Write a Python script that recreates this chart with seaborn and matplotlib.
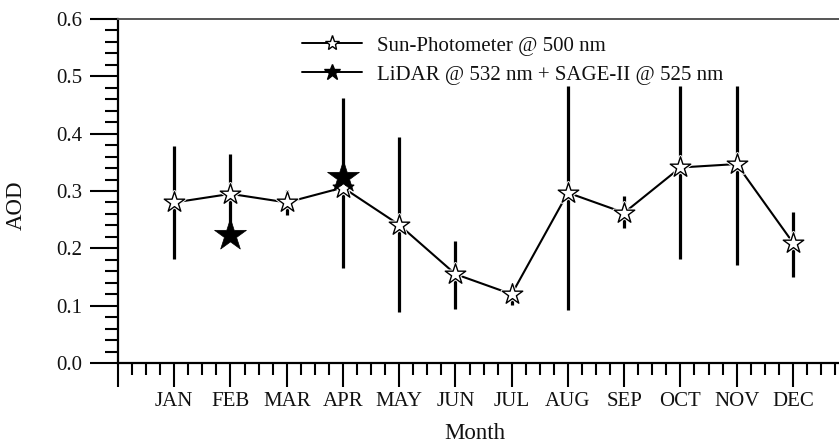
import matplotlib
matplotlib.use("Agg")
import matplotlib.pyplot as plt
from matplotlib.ticker import MultipleLocator, FixedLocator, FormatStrFormatter
from matplotlib.lines import Line2D
import seaborn as sns
import numpy as np

months = ["JAN", "FEB", "MAR", "APR", "MAY", "JUN", "JUL", "AUG", "SEP", "OCT", "NOV", "DEC"]
sun_aod = [0.280, 0.295, 0.280, 0.306, 0.241, 0.155, 0.120, 0.297, 0.262, 0.341, 0.347, 0.210]
sun_upper = [0.378, 0.364, 0.302, 0.462, 0.395, 0.212, 0.137, 0.483, 0.292, 0.483, 0.483, 0.264]
sun_lower = [0.182, 0.225, 0.258, 0.166, 0.089, 0.095, 0.101, 0.093, 0.236, 0.182, 0.171, 0.150]
lidar_months = ["FEB", "APR"]
lidar_aod = [0.224, 0.325]

sns.set_theme(style="ticks")
plt.rcParams["font.family"] = ["Liberation Serif", "DejaVu Serif"]

fig = plt.figure(figsize=(8.39, 4.46), dpi=100)
ax = fig.add_axes([118 / 839, 1 - 363 / 446, 1 - 118 / 839, (363 - 19) / 446])

pos = np.arange(1, len(months) + 1)
lidar_pos = [months.index(m) + 1 for m in lidar_months]

# error bars
ax.vlines(pos, sun_lower, sun_upper, color="black", lw=2.3, zorder=2)

# connecting line
sns.lineplot(x=pos, y=sun_aod, ax=ax, color="black", lw=1.5, zorder=3)

# small white halo around open stars (gaps in line as in the original)
sns.scatterplot(x=pos, y=sun_aod, ax=ax, marker="*", s=240, color="white",
                edgecolor="white", linewidth=2.4, zorder=3.5)
# open stars
sns.scatterplot(x=pos, y=sun_aod, ax=ax, marker="*", s=240, color="white",
                edgecolor="black", linewidth=1.0, zorder=4)

# filled stars
sns.scatterplot(x=lidar_pos, y=lidar_aod, ax=ax, marker="*", s=580,
                color="black", edgecolor="black", linewidth=0.5, zorder=5)

ax.set_xlim(0, 12.82)
ax.set_ylim(0, 0.6)

ax.xaxis.set_major_locator(FixedLocator(list(range(0, 13))))
ax.set_xticklabels([""] + months)
ax.xaxis.set_minor_locator(MultipleLocator(0.25))
ax.yaxis.set_major_locator(MultipleLocator(0.1))
ax.yaxis.set_minor_locator(MultipleLocator(0.02))
ax.yaxis.set_major_formatter(FormatStrFormatter("%.1f"))

ax.tick_params(axis="x", which="major", direction="out", length=17, width=1.5,
               labelsize=15, pad=4, color="black", labelcolor="#111111")
ax.tick_params(axis="x", which="minor", direction="out", length=8.5, width=1.5, color="black")
ax.tick_params(axis="y", which="major", direction="out", length=20, width=1.5,
               labelsize=15, pad=5.5, color="black", labelcolor="#111111")
ax.tick_params(axis="y", which="minor", direction="out", length=9.5, width=1.5, color="black")

for side in ["left", "bottom"]:
    ax.spines[side].set_linewidth(1.6)
    ax.spines[side].set_color("black")
ax.spines["top"].set_linewidth(1.4)
ax.spines["top"].set_color("#555555")
ax.spines["right"].set_visible(False)

ax.set_xlabel("Month", fontsize=16.5, color="#111111")
ax.set_ylabel("AOD", fontsize=16.5, color="#111111")
ax.xaxis.set_label_coords(0.495, -0.175)
ax.yaxis.set_label_coords(-0.126, 0.46)

handles = [
    Line2D([], [], color="black", lw=1.4, marker="*", markersize=11,
           markerfacecolor="white", markeredgecolor="black", markeredgewidth=1.0),
    Line2D([], [], color="black", lw=1.4, marker="*", markersize=12,
           markerfacecolor="black", markeredgecolor="black"),
]
labels = ["Sun-Photometer @ 500 nm", "LiDAR @ 532 nm + SAGE-II @ 525 nm"]
fig.legend(handles, labels, loc="upper left", bbox_to_anchor=(302 / 839, 1 - 36 / 446),
           frameon=False, fontsize=15, handlelength=2.9, handletextpad=0.7,
           labelspacing=0.45, borderpad=0, borderaxespad=0, labelcolor="#111111")

fig.savefig("out.png", dpi=100)
